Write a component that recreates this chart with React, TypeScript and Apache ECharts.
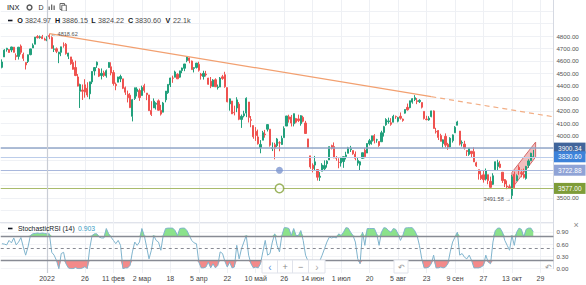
import React, { useEffect, useRef } from 'react';
import * as echarts from 'echarts';

const FONT = "'Liberation Sans', Arial, sans-serif";

// ---- calendar (trading sessions, NYSE holidays skipped) ----
const FIRST_SESSION = '2021-12-06';
const HOLIDAYS = ['2021-12-24', '2022-01-17', '2022-02-21', '2022-04-15', '2022-05-30', '2022-06-20', '2022-07-04', '2022-09-05'];
const SLOT_COUNT = 233;

const TICK_LABELS: Record<string, string> = {
  '2022-01-03': '2022', '2022-01-26': '26', '2022-02-11': '11 фев', '2022-03-02': '2 мар', '2022-03-18': '18',
  '2022-04-05': '5 апр', '2022-04-22': '22', '2022-05-10': '10 май', '2022-05-26': '26', '2022-06-14': '14 июн',
  '2022-07-01': '1 июл', '2022-07-20': '20', '2022-08-05': '5 авг', '2022-08-23': '23', '2022-09-09': '9 сен',
  '2022-09-27': '27', '2022-10-13': '13 окт', '2022-10-31': '29',
};

// ---- daily OHLC, Dec 6 2021 .. Oct 26 2022 ----
const OPEN = [
  4548.4, 4632.0, 4690.9, 4691.0, 4687.6, 4710.3, 4643.0, 4636.5, 4719.1, 4652.5, 4587.9, 4595.0, 4650.4, 4704.0, 4734.0, 4795.5, 4788.6, 4794.2, 4775.2,
  4778.1, 4804.5, 4788.0, 4693.4, 4697.7, 4655.3, 4669.1, 4728.6, 4733.6, 4638.0, 4632.2, 4588.0, 4547.4, 4471.4, 4356.3, 4366.6, 4408.4, 4380.6, 4336.2, 4431.8,
  4519.6, 4566.4, 4535.4, 4482.8, 4505.8, 4480.0, 4547.0, 4553.2, 4506.3, 4412.6, 4429.3, 4455.8, 4456.1, 4384.6, 4332.7, 4324.9, 4155.8, 4298.4, 4354.2,
  4363.1, 4322.6, 4401.3, 4342.1, 4327.0, 4202.7, 4223.1, 4252.6, 4279.5, 4202.8, 4188.8, 4288.1, 4345.1, 4407.3, 4462.4, 4469.1, 4493.1, 4470.0, 4522.9, 4541.1, 4602.9, 4624.2, 4599.0,
  4540.3, 4548.0, 4572.5, 4494.2, 4474.7, 4494.2, 4462.6, 4437.6, 4394.3, 4449.1, 4385.6, 4390.6, 4472.3, 4489.2, 4385.8, 4255.3, 4278.1, 4186.5, 4222.6, 4253.8,
  4130.6, 4159.8, 4181.2, 4270.4, 4128.2, 4081.3, 4035.2, 3990.1, 3904.0, 3963.9, 4013.0, 4052.0, 4052.0, 3899.0, 3927.8, 3919.4, 3942.9, 3929.6, 3984.6, 4077.4, 4151.1,
  4149.8, 4095.4, 4137.6, 4134.7, 4096.5, 4147.1, 4101.7, 3974.4, 3838.2, 3763.5, 3764.1, 3728.2, 3665.9, 3715.3, 3733.9, 3774.7, 3805.6, 3920.8, 3913.0, 3825.1, 3786.0,
  3781.0, 3792.6, 3832.0, 3858.9, 3888.3, 3880.9, 3852.0, 3779.7, 3764.0, 3818.0, 3883.8, 3860.7, 3935.3, 3955.5, 4000.3, 3965.7, 3953.2, 3951.4, 4026.1, 4087.3,
  4112.4, 4104.2, 4108.0, 4154.9, 4115.9, 4155.9, 4133.1, 4181.0, 4227.4, 4225.0, 4269.4, 4290.5, 4280.4, 4273.1, 4266.3, 4195.1, 4133.1, 4126.6, 4153.3, 4198.7, 4034.6, 4041.3, 4000.7,
  3936.7, 3994.7, 3930.9, 3909.4, 3959.9, 4022.9, 4083.7, 4037.1, 3940.7, 3932.4, 3881.0, 3849.9, 3875.2, 3871.4, 3782.4, 3727.1, 3682.7, 3686.4, 3651.9, 3687.0, 3633.5,
  3609.8, 3726.5, 3753.3, 3772.0, 3706.7, 3647.5, 3595.9, 3590.8, 3520.4, 3690.4, 3638.7, 3746.3, 3703.1, 3689.1, 3657.1, 3762.0, 3799.4, 3824.97,
];
const HIGH = [
  4612.6, 4694.0, 4705.1, 4695.3, 4713.6, 4710.3, 4660.5, 4712.6, 4732.0, 4666.7, 4587.9, 4651.1, 4697.7, 4740.7, 4791.5, 4807.0, 4804.1, 4808.9, 4786.8,
  4796.6, 4818.62, 4797.7, 4725.0, 4708.0, 4673.0, 4714.1, 4748.8, 4744.1, 4665.1, 4632.2, 4611.6, 4602.1, 4494.5, 4417.4, 4411.0, 4453.2, 4428.7, 4432.7, 4516.9,
  4550.5, 4595.3, 4542.9, 4539.7, 4521.9, 4531.3, 4590.0, 4588.9, 4526.3, 4426.2, 4472.8, 4489.6, 4456.1, 4394.6, 4362.1, 4341.5, 4294.7, 4385.3, 4388.8,
  4378.5, 4401.5, 4416.8, 4342.1, 4327.0, 4276.9, 4299.4, 4268.3, 4291.0, 4247.6, 4271.1, 4357.9, 4412.7, 4465.4, 4481.8, 4522.0, 4501.1, 4520.6, 4546.0, 4575.7, 4637.3, 4627.8, 4603.1,
  4548.7, 4583.5, 4593.5, 4503.9, 4521.2, 4520.4, 4464.4, 4471.0, 4453.9, 4460.5, 4410.3, 4471.0, 4488.3, 4512.9, 4385.8, 4299.0, 4278.1, 4240.7, 4308.5, 4269.7,
  4169.8, 4200.1, 4307.7, 4270.4, 4157.7, 4081.3, 4068.8, 4049.1, 3964.8, 4038.9, 4046.5, 4090.7, 4052.0, 3946.0, 3943.4, 3981.9, 3955.7, 3999.3, 4075.1, 4158.5, 4168.3,
  4166.5, 4177.5, 4142.7, 4168.8, 4164.9, 4160.1, 4119.1, 3974.4, 3838.2, 3778.2, 3837.6, 3728.2, 3707.7, 3779.7, 3801.8, 3802.6, 3913.7, 3927.7, 3945.9, 3836.5, 3819.0,
  3829.8, 3832.2, 3870.9, 3910.6, 3918.5, 3880.9, 3873.4, 3829.4, 3796.4, 3863.6, 3902.4, 3939.8, 3974.1, 3999.3, 4012.4, 3975.3, 3953.2, 4039.6, 4079.0, 4140.2,
  4145.0, 4140.5, 4167.7, 4161.3, 4151.6, 4186.6, 4137.3, 4211.0, 4257.9, 4280.5, 4301.8, 4325.3, 4302.2, 4292.5, 4266.3, 4195.1, 4159.8, 4156.6, 4200.5, 4203.0, 4063.0, 4045.0, 4015.4,
  3970.2, 4018.4, 3942.6, 3987.9, 4010.5, 4076.8, 4119.3, 4037.1, 3961.9, 3959.1, 3881.0, 3900.5, 3876.0, 3907.1, 3790.7, 3727.1, 3715.7, 3717.5, 3736.7, 3687.0, 3671.4,
  3698.4, 3791.9, 3806.9, 3797.9, 3706.7, 3652.2, 3640.7, 3608.3, 3685.4, 3712.0, 3689.7, 3762.8, 3728.6, 3736.0, 3757.9, 3810.7, 3862.9, 3886.15,
];
const LOW = [
  4540.5, 4632.0, 4674.5, 4666.0, 4670.2, 4667.6, 4606.5, 4611.2, 4651.9, 4600.2, 4531.1, 4583.2, 4645.5, 4704.0, 4734.0, 4780.0, 4778.1, 4775.3, 4765.8,
  4758.2, 4774.3, 4699.4, 4671.3, 4662.7, 4582.2, 4638.3, 4706.7, 4650.3, 4614.8, 4568.7, 4530.2, 4478.0, 4395.3, 4222.6, 4287.1, 4304.8, 4309.5, 4292.5, 4414.0,
  4483.5, 4544.3, 4470.4, 4451.5, 4471.5, 4465.4, 4547.0, 4484.3, 4401.4, 4364.8, 4429.3, 4429.7, 4373.8, 4327.2, 4267.1, 4221.5, 4114.7, 4286.8, 4315.1,
  4279.5, 4322.6, 4345.6, 4285.0, 4199.9, 4157.9, 4223.1, 4209.8, 4200.5, 4161.7, 4187.9, 4267.9, 4335.7, 4390.6, 4424.3, 4469.1, 4455.8, 4465.2, 4501.1, 4517.7, 4589.7, 4581.3, 4530.4,
  4507.6, 4539.2, 4514.2, 4450.0, 4450.3, 4474.6, 4408.4, 4381.3, 4392.7, 4390.8, 4370.3, 4390.6, 4448.8, 4384.5, 4267.6, 4200.8, 4175.0, 4162.9, 4188.6, 4124.3,
  4062.5, 4147.1, 4148.9, 4106.0, 4067.9, 3975.5, 3958.2, 3928.8, 3858.9, 3963.9, 3984.0, 4033.7, 3911.9, 3876.6, 3810.3, 3909.0, 3875.1, 3925.0, 3984.6, 4077.4, 4104.9,
  4073.9, 4074.4, 4098.7, 4109.2, 4080.2, 4107.2, 4017.2, 3900.2, 3734.3, 3705.7, 3722.3, 3639.8, 3636.9, 3715.3, 3717.7, 3743.5, 3805.6, 3889.7, 3820.1, 3799.0, 3738.7,
  3752.1, 3742.1, 3809.4, 3858.9, 3869.3, 3847.2, 3802.4, 3759.1, 3721.6, 3817.2, 3818.6, 3860.7, 3922.0, 3927.6, 3938.2, 3943.5, 3910.7, 3951.4, 3993.0, 4079.2,
  4096.0, 4079.8, 4108.0, 4135.4, 4107.3, 4129.0, 4112.1, 4177.3, 4201.4, 4219.8, 4256.9, 4277.8, 4253.1, 4262.0, 4218.7, 4129.9, 4124.0, 4120.0, 4147.6, 4057.7, 4017.4, 3965.2, 3954.5,
  3903.7, 3906.2, 3886.8, 3906.0, 3944.8, 4022.9, 4083.7, 3921.4, 3912.8, 3888.3, 3837.1, 3838.5, 3827.5, 3789.5, 3749.5, 3647.5, 3644.8, 3623.3, 3640.6, 3610.4, 3584.1,
  3604.9, 3726.5, 3722.7, 3739.2, 3620.7, 3588.1, 3570.5, 3573.9, 3491.58, 3579.7, 3638.7, 3686.5, 3666.5, 3656.4, 3647.4, 3741.7, 3799.4, 3824.22,
];
const CLOSE = [
  4591.7, 4686.8, 4701.2, 4667.5, 4712.0, 4669.0, 4634.1, 4709.9, 4668.7, 4620.6, 4568.0, 4649.2, 4696.6, 4725.8, 4791.2, 4786.4, 4793.1, 4778.7, 4766.2,
  4796.6, 4793.5, 4700.6, 4696.1, 4677.0, 4670.3, 4713.1, 4726.4, 4659.0, 4662.9, 4577.1, 4532.8, 4482.7, 4397.9, 4410.1, 4356.5, 4349.9, 4326.5, 4431.9, 4515.6,
  4546.5, 4589.4, 4477.4, 4500.5, 4483.9, 4521.5, 4587.2, 4504.1, 4418.6, 4401.7, 4471.1, 4475.0, 4380.3, 4348.9, 4304.8, 4225.5, 4288.7, 4384.7, 4373.9,
  4306.3, 4386.5, 4363.5, 4328.9, 4201.1, 4170.7, 4277.9, 4259.5, 4204.3, 4173.1, 4262.5, 4357.9, 4411.7, 4463.1, 4461.2, 4511.6, 4456.2, 4520.2, 4543.1, 4575.5, 4631.6, 4602.5, 4530.4,
  4545.9, 4582.6, 4525.1, 4481.2, 4500.2, 4488.3, 4412.5, 4397.5, 4446.6, 4392.6, 4391.7, 4462.2, 4459.5, 4393.7, 4271.8, 4296.1, 4175.2, 4184.0, 4287.5, 4131.9,
  4155.4, 4175.5, 4300.2, 4146.9, 4123.3, 3991.2, 4001.1, 3935.2, 3930.1, 4023.9, 4008.0, 4088.9, 3923.7, 3900.8, 3901.4, 3973.8, 3941.5, 3978.7, 4057.8, 4158.2, 4132.2,
  4101.2, 4176.8, 4108.5, 4121.4, 4160.7, 4115.8, 4017.8, 3900.9, 3749.6, 3735.5, 3790.0, 3666.8, 3674.8, 3764.8, 3759.9, 3795.7, 3911.7, 3900.1, 3821.6, 3818.8, 3785.4,
  3825.3, 3831.4, 3845.1, 3902.6, 3899.4, 3854.4, 3818.8, 3801.8, 3790.4, 3863.2, 3830.9, 3936.7, 3959.9, 3999.0, 3961.6, 3966.8, 3921.1, 4023.6, 4072.4, 4130.3,
  4118.6, 4091.2, 4155.2, 4151.9, 4145.2, 4140.1, 4122.5, 4210.2, 4207.3, 4280.2, 4297.1, 4305.2, 4274.0, 4283.7, 4228.5, 4138.0, 4128.7, 4140.8, 4199.1, 4057.7, 4030.6, 3986.2, 3955.0,
  3966.9, 3924.3, 3908.2, 3979.9, 4006.2, 4067.4, 4110.4, 3932.7, 3946.0, 3901.4, 3873.3, 3899.9, 3855.9, 3789.9, 3758.0, 3693.2, 3655.0, 3647.3, 3719.0, 3640.5, 3585.6,
  3678.4, 3790.9, 3783.3, 3744.5, 3639.7, 3612.4, 3588.8, 3577.0, 3669.9, 3583.1, 3678.0, 3720.0, 3695.2, 3665.8, 3752.8, 3797.3, 3859.1, 3830.60,
];
const LAST_VOLUME = '22.1k';

// ---- StochasticRSI (14) ----
const STOCH = [
  0.61, 0.60, 0.58, 0.69, 0.63, 0.75, 0.58, 0.65, 0.76, 0.53,
  0.33, 0.53, 0.81, 0.85, 0.86, 0.87, 0.86, 0.87, 0.86, 0.85,
  0.85, 0.40, 0.33, 0.20, 0.00, 0.37, 0.40, 0.12, 0.02, 0.00,
  0.00, 0.03, 0.00, 0.00, 0.02, 0.05, 0.00, 0.49, 0.81, 0.85,
  0.85, 0.77, 0.75, 0.75, 0.98, 0.85, 0.77, 0.69, 0.61, 0.69,
  0.57, 0.00, 0.02, 0.02, 0.08, 0.41, 0.65, 0.57, 0.65, 0.98,
  0.81, 0.53, 0.24, 0.45, 0.81, 0.69, 0.65, 0.45, 0.81, 0.98,
  0.99, 0.99, 0.99, 0.93, 0.81, 0.98, 0.99, 0.99, 0.93, 0.81,
  0.69, 0.63, 0.61, 0.16, 0.02, 0.02, 0.04, 0.16, 0.02, 0.12,
  0.02, 0.08, 0.41, 0.37, 0.18, 0.04, 0.16, 0.02, 0.04, 0.57,
  0.24, 0.49, 0.65, 0.81, 0.33, 0.12, 0.02, 0.04, 0.02, 0.12,
  0.41, 0.69, 0.33, 0.37, 0.65, 0.85, 0.57, 0.41, 0.81, 1.00,
  1.00, 0.98, 0.81, 0.98, 0.81, 0.81, 0.93, 0.69, 0.33, 0.19,
  0.18, 0.18, 0.18, 0.18, 0.19, 0.33, 0.49, 0.65, 0.77, 0.75,
  0.77, 0.75, 0.85, 0.81, 0.89, 1.00, 0.99, 0.89, 0.81, 0.65,
  0.24, 0.12, 0.89, 0.57, 0.98, 0.98, 0.98, 0.98, 0.85, 0.57,
  0.89, 1.00, 0.99, 0.93, 0.89, 0.98, 0.96, 0.85, 0.69, 0.81,
  0.99, 1.00, 1.00, 1.00, 0.93, 0.81, 0.57, 0.24, 0.02, 0.02,
  0.04, 0.12, 0.33, 0.02, 0.02, 0.04, 0.02, 0.04, 0.12, 0.41,
  0.65, 0.77, 0.89, 0.33, 0.37, 0.28, 0.24, 0.33, 0.20, 0.02,
  0.02, 0.02, 0.04, 0.08, 0.33, 0.16, 0.12, 0.65, 0.93, 0.99,
  0.99, 0.89, 0.69, 0.57, 0.45, 0.81, 0.57, 0.89, 0.99, 0.96,
  0.77, 0.96, 0.99, 0.99, 0.903,
];
const STOCH_LEVELS = [0.8, 0.5, 0.2];

// ---- drawings ----
const PRICE_LEVELS = [3900.34, 3830.60, 3722.88, 3577.00];
const LEVEL_LINE_COLORS = ['#93a7c9', '#bccdea', '#a9b8dd', '#a9bb6c'];
const LEVEL_BOX_COLORS = ['#41659b', '#3d82d9', '#8fa3d6', '#7e9c38'];
const TREND_START: [string, number] = ['2022-01-04', 4818.62];
const TREND_MID: [string, number] = ['2022-08-25', 4313];
const TREND_END_VALUE = 4153;
const CHANNEL: [string, number][] = [['2022-10-13', 3577], ['2022-10-13', 3705], ['2022-10-27', 3949], ['2022-10-27', 3829]];
const MARK_DATE = '2022-05-24';

function tradingDays(): string[] {
  const out: string[] = [];
  const d = new Date(FIRST_SESSION + 'T00:00:00Z');
  while (out.length < SLOT_COUNT) {
    const wd = d.getUTCDay();
    const s = d.toISOString().slice(0, 10);
    if (wd !== 0 && wd !== 6 && !HOLIDAYS.includes(s)) out.push(s);
    d.setUTCDate(d.getUTCDate() + 1);
  }
  return out;
}

export default function App() {
  const ref = useRef<HTMLDivElement>(null);
  useEffect(() => {
    document.body.style.margin = '0';
    if (!ref.current) return;
    const chart = echarts.init(ref.current, null, { renderer: 'svg' });
    const DATES = tradingDays();
    const n = CLOSE.length;
    const last = n - 1;
    const BAND = 2.372;
    const LEFT = 0.75;
    const WIDTH = SLOT_COUNT * BAND;
    const RIGHT = 586 - LEFT - WIDTH;
    const candles = OPEN.map((o, i) => [o, CLOSE[i], LOW[i], HIGH[i]]);
    const hiIdx = HIGH.indexOf(Math.max(...HIGH));
    const loIdx = LOW.indexOf(Math.min(...LOW));
    const up = '#22a07c';
    const down = '#ef5350';
    const isTick = (_i: number, v: string) => v in TICK_LABELS;

    const txt = (x: number, y: number, t: string, size: number, fill: string, weight: any = 'normal', align: any = 'left') => ({
      type: 'text', x, y, silent: true, z: 100,
      style: { text: t, fontSize: size, fill, fontWeight: weight, fontFamily: FONT, align, verticalAlign: 'middle' },
    });

    const hdrVals: [string, string][] = [
      ['O', OPEN[last].toFixed(2)], ['H', HIGH[last].toFixed(2)], ['L', LOW[last].toFixed(2)], ['C', CLOSE[last].toFixed(2)], ['V', LAST_VOLUME],
    ];
    const hdrLetterX = [20, 57.5, 93.5, 130.5, 168];
    const hdrValueX = [25, 62, 98, 135, 173];
    const header: any[] = [
      txt(7, 7.5, 'INX', 7.5, '#131722'),
      { type: 'circle', shape: { cx: 29.5, cy: 7.5, r: 2.4 }, style: { fill: 'none', stroke: '#555', lineWidth: 1.4 }, silent: true },
      txt(38.5, 7.5, 'D', 7, '#333'),
      { type: 'rect', shape: { x: 48.5, y: 6.5, width: 1.3, height: 3.5 }, style: { fill: '#666' }, silent: true },
      { type: 'rect', shape: { x: 51, y: 4.5, width: 1.3, height: 5.5 }, style: { fill: '#666' }, silent: true },
      { type: 'rect', shape: { x: 53.5, y: 5.5, width: 1.3, height: 4.5 }, style: { fill: '#666' }, silent: true },
      { type: 'rect', shape: { x: 60, y: 3.5, width: 4.5, height: 6 }, style: { fill: 'none', stroke: '#666', lineWidth: 1 }, silent: true },
      { type: 'rect', shape: { x: 61.8, y: 5.2, width: 4.5, height: 6 }, style: { fill: '#fff', stroke: '#666', lineWidth: 1 }, silent: true },
      { type: 'line', shape: { x1: 8, y1: 20.5, x2: 12.5, y2: 20.5 }, style: { stroke: '#131722', lineWidth: 1.6 }, silent: true },
    ];
    hdrVals.forEach(([k, v], i) => {
      header.push(txt(hdrLetterX[i], 20.7, k, 7.2, '#131722', 'bold', 'center'));
      header.push(txt(hdrValueX[i], 20.7, v, 7.2, '#4a4a4a'));
    });
    const stochLegend: any[] = [
      { type: 'line', shape: { x1: 8, y1: 228.5, x2: 12.5, y2: 228.5 }, style: { stroke: '#131722', lineWidth: 1.6 }, silent: true, z: 100 },
      txt(18, 228.7, 'StochasticRSI (14)', 6.8, '#131722'),
      txt(78, 228.7, STOCH[STOCH.length - 1].toFixed(3), 6.8, '#3d9cc4'),
      txt(576, 224.5, '×', 9, '#888', 'normal', 'center'),
    ];
    const separator = { type: 'line', shape: { x1: 0, y1: 222.5, x2: 553.4, y2: 222.5 }, style: { stroke: '#e0e3eb', lineWidth: 1 }, silent: true };
    const nav: any[] = [
      { type: 'rect', shape: { x: 262, y: 260, width: 63, height: 13 }, style: { fill: '#fff', stroke: '#e0e3eb', lineWidth: 1 }, silent: true, z: 99 },
      { type: 'line', shape: { x1: 277.5, y1: 260, x2: 277.5, y2: 273 }, style: { stroke: '#e0e3eb' }, silent: true, z: 99 },
      { type: 'line', shape: { x1: 292.5, y1: 260, x2: 292.5, y2: 273 }, style: { stroke: '#e0e3eb' }, silent: true, z: 99 },
      { type: 'line', shape: { x1: 308.5, y1: 260, x2: 308.5, y2: 273 }, style: { stroke: '#e0e3eb' }, silent: true, z: 99 },
      txt(270, 267, '‹', 10, '#5b8bd8', 'normal', 'center'),
      txt(285, 267, '+', 9, '#888', 'normal', 'center'),
      txt(300.5, 267, '−', 9, '#888', 'normal', 'center'),
      txt(317, 267, '›', 10, '#aaa', 'normal', 'center'),
      { type: 'rect', shape: { x: 394, y: 260, width: 14, height: 13 }, style: { fill: '#fff', stroke: '#e0e3eb', lineWidth: 1 }, silent: true, z: 99 },
      txt(401, 267, '↶', 8, '#999', 'normal', 'center'),
      txt(548, 267, '↶', 8, '#999', 'normal', 'center'),
    ];

    const chIdx = CHANNEL.map(([d, p]) => [DATES.indexOf(d), p]);

    const option: any = {
      animation: false,
      backgroundColor: '#ffffff',
      textStyle: { fontFamily: FONT },
      grid: [
        { left: LEFT, right: RIGHT, top: -1.38, height: 224.3, outerBoundsMode: 'none', containLabel: false },
        { left: LEFT, right: RIGHT, top: 223.6, height: 45.1, outerBoundsMode: 'none', containLabel: false },
        { left: LEFT + BAND / 2, right: RIGHT + BAND / 2, top: 0, height: 273, outerBoundsMode: 'none', containLabel: false },
      ],
      xAxis: [
        { type: 'category', gridIndex: 0, data: DATES, boundaryGap: true, show: false },
        {
          type: 'category', gridIndex: 1, data: DATES, boundaryGap: true,
          axisLine: { show: false }, axisTick: { show: false }, splitLine: { show: false },
          axisLabel: { interval: isTick, formatter: (v: string) => TICK_LABELS[v] ?? '', fontSize: 7, color: '#444', margin: 6, fontFamily: FONT },
        },
        {
          type: 'category', gridIndex: 2, data: DATES, boundaryGap: false,
          axisLine: { show: false }, axisTick: { show: false }, axisLabel: { show: false },
          splitLine: { show: true, interval: isTick, lineStyle: { color: '#eef0f4', width: 1 } },
        },
      ],
      yAxis: [
        {
          type: 'value', gridIndex: 0, position: 'right', min: 3300, max: 5100, interval: 100, scale: false,
          axisLine: { show: true, lineStyle: { color: '#d5d9e2' } }, axisTick: { show: false },
          splitLine: { show: true, lineStyle: { color: '#eff1f5' } },
          axisLabel: {
            margin: 3, fontSize: 6.2, color: '#555', fontFamily: FONT,
            formatter: (v: number) => (v >= 3500 && v <= 4800 && !(v >= 3600 && v <= 3900) ? v.toFixed(2) : ''),
          },
        },
        {
          type: 'value', gridIndex: 1, position: 'right', min: 0, max: 1.1, interval: 0.3,
          axisLine: { show: true, lineStyle: { color: '#d5d9e2' } }, axisTick: { show: false },
          splitLine: { show: true, lineStyle: { color: '#f3f4f7' } },
          axisLabel: { margin: 3, fontSize: 6.2, color: '#555', fontFamily: FONT, formatter: (v: number) => (v <= 0.95 ? v.toFixed(2) : '') },
        },
        { type: 'value', gridIndex: 2, min: 0, max: 1, show: false },
      ],
      graphic: [separator, ...header, ...stochLegend, ...nav],
      series: [
        {
          type: 'line', xAxisIndex: 2, yAxisIndex: 2, data: [], silent: true,
          markLine: {
            silent: true, symbol: ['none', 'none'], label: { show: false },
            lineStyle: { color: '#c9cdd5', width: 1.2, type: 'solid' },
            data: [{ xAxis: DATES[19] }],
          },
        },
        {
          type: 'custom', xAxisIndex: 0, yAxisIndex: 0, silent: true, z: 1, clip: false,
          data: [chIdx[0]],
          renderItem: (_p: any, api: any) => ({
            type: 'polygon',
            shape: { points: chIdx.map((c) => api.coord(c)) },
            style: { fill: 'rgba(225,110,110,0.45)', stroke: '#d36a6a', lineWidth: 1 },
          }),
        },
        {
          type: 'candlestick', xAxisIndex: 0, yAxisIndex: 0, data: candles, barWidth: '72%', z: 3,
          itemStyle: { color: up, color0: down, borderColor: up, borderColor0: down, borderWidth: 1 },
          markLine: {
            silent: true, symbol: ['none', 'none'], z: 4,
            data: [
              ...PRICE_LEVELS.map((v, i) => ({
                yAxis: v,
                lineStyle: { color: LEVEL_LINE_COLORS[i], width: i === 0 ? 1.6 : 1.2, type: 'solid' },
                label: {
                  show: true, position: 'end', distance: 0.6, formatter: v.toFixed(2),
                  backgroundColor: LEVEL_BOX_COLORS[i], color: '#fff', fontSize: 6.5, padding: [2, 4, 2, 4], fontFamily: FONT,
                },
              })),
              [
                { coord: TREND_START, lineStyle: { color: '#f2a070', width: 1.2, type: 'solid' }, label: { show: false } },
                { coord: TREND_MID, lineStyle: { color: '#f2a070', width: 1.2, type: 'solid' }, label: { show: false } },
              ],
              [
                { coord: TREND_MID, lineStyle: { color: '#f2ae85', width: 1.2, type: [5, 4] }, label: { show: false } },
                { coord: [DATES[DATES.length - 1], TREND_END_VALUE], lineStyle: { color: '#f2ae85', width: 1.2, type: [5, 4] }, label: { show: false } },
              ],
            ],
          },
          markPoint: {
            silent: true, symbol: 'circle', symbolSize: 0,
            data: [
              { coord: [DATES[hiIdx], HIGH[hiIdx]], label: { show: true, position: 'right', distance: 1, formatter: '← ' + HIGH[hiIdx].toFixed(2), fontSize: 5.6, color: '#555', fontFamily: FONT } },
              { coord: [DATES[loIdx], LOW[loIdx]], label: { show: true, position: 'left', distance: 1, formatter: LOW[loIdx].toFixed(2) + ' →', fontSize: 5.6, color: '#555', fontFamily: FONT } },
            ],
          },
        },
        {
          type: 'scatter', xAxisIndex: 0, yAxisIndex: 0, silent: true, z: 5,
          data: [[MARK_DATE, PRICE_LEVELS[2]]], symbolSize: 7, itemStyle: { color: '#7d96cf' },
        },
        {
          type: 'scatter', xAxisIndex: 0, yAxisIndex: 0, silent: true, z: 5,
          data: [[MARK_DATE, PRICE_LEVELS[3]]], symbolSize: 8.5, itemStyle: { color: '#ffffff', borderColor: '#84a23a', borderWidth: 1.5 },
        },
        // stochastic pane: overbought / oversold fills
        {
          type: 'line', xAxisIndex: 1, yAxisIndex: 1, stack: 'ob', symbol: 'none', silent: true,
          data: STOCH.map(() => STOCH_LEVELS[0]), lineStyle: { opacity: 0 },
        },
        {
          type: 'line', xAxisIndex: 1, yAxisIndex: 1, stack: 'ob', symbol: 'none', silent: true,
          data: STOCH.map((v) => Math.max(v - STOCH_LEVELS[0], 0)), lineStyle: { opacity: 0 },
          areaStyle: { color: '#8be28b', opacity: 1 },
        },
        {
          type: 'line', xAxisIndex: 1, yAxisIndex: 1, stack: 'os', symbol: 'none', silent: true,
          data: STOCH.map((v) => Math.min(v, STOCH_LEVELS[2])), lineStyle: { opacity: 0 },
        },
        {
          type: 'line', xAxisIndex: 1, yAxisIndex: 1, stack: 'os', symbol: 'none', silent: true,
          data: STOCH.map((v) => STOCH_LEVELS[2] - Math.min(v, STOCH_LEVELS[2])), lineStyle: { opacity: 0 },
          areaStyle: { color: '#f38a8a', opacity: 1 },
        },
        {
          type: 'line', xAxisIndex: 1, yAxisIndex: 1, symbol: 'none', silent: true, z: 4,
          data: STOCH, lineStyle: { color: '#80b4cd', width: 1 },
          markLine: {
            silent: true, symbol: ['none', 'none'], label: { show: false },
            data: STOCH_LEVELS.map((v, i) => ({
              yAxis: v, lineStyle: { color: '#888b94', width: i === 1 ? 1 : 1.3, type: i === 1 ? [3, 3] : 'solid' },
            })),
          },
        },
      ],
    };
    chart.setOption(option);
    return () => chart.dispose();
  }, []);
  return <div ref={ref} style={{ width: 586, height: 285 }} />;
}
